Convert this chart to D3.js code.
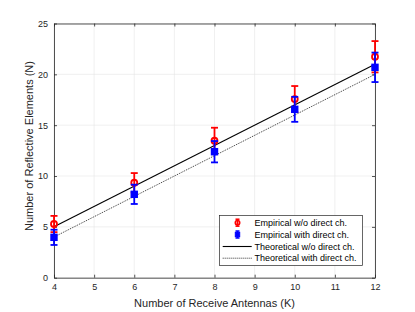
<!DOCTYPE html>
<html><head><meta charset="utf-8">
<script src="https://cdn.jsdelivr.net/npm/d3@7"></script>
<style>body{margin:0;background:#fff;} svg{display:block;font-family:"Liberation Sans",Arial,sans-serif;}</style>
</head><body>
<script>
const antennas = [4, 6, 8, 10, 12];
const empNoDirect = [5.28, 9.34, 13.47, 17.57, 21.73];
const empNoDirectErr = [0.8, 0.95, 1.28, 1.28, 1.54];
const empDirect = [3.97, 8.2, 12.39, 16.56, 20.69];
const empDirectErr = [0.75, 0.95, 1.05, 1.23, 1.45];
const theoK = [4, 12];
const theoNoDirect = [5, 21];
const theoDirect = [4, 20];
const xTicks = [4,5,6,7,8,9,10,11,12];
const yTicks = [0,5,10,15,20,25];
const legendLabels = ["Empirical w/o direct ch.","Empirical with direct ch.","Theoretical w/o direct ch.","Theoretical with direct ch."];

const W=415,H=312;
const m={l:54,r:40,t:23.5,b:34.3};
const svg=d3.select("body").append("svg").attr("width",W).attr("height",H);
const x=d3.scaleLinear().domain([4,12]).range([m.l,W-m.r]);
const y=d3.scaleLinear().domain([0,25]).range([H-m.b,m.t]);

// grid
const g=svg.append("g");
g.selectAll(".gx").data(xTicks).join("line").attr("x1",d=>x(d)).attr("x2",d=>x(d)).attr("y1",y(0)).attr("y2",y(25)).attr("stroke","#e6e6e6").attr("stroke-width",0.6);
g.selectAll(".gy").data(yTicks).join("line").attr("y1",d=>y(d)).attr("y2",d=>y(d)).attr("x1",x(4)).attr("x2",x(12)).attr("stroke","#e6e6e6").attr("stroke-width",0.6);

// axes
const ax=svg.append("g").attr("transform",`translate(0,${y(0)})`).call(d3.axisBottom(x).tickValues(xTicks).tickSizeInner(-3).tickSizeOuter(0).tickPadding(6));
const ay=svg.append("g").attr("transform",`translate(${x(4)},0)`).call(d3.axisLeft(y).tickValues(yTicks).tickSizeInner(-3).tickSizeOuter(0).tickPadding(6));
const axT=svg.append("g").attr("transform",`translate(0,${y(25)})`).call(d3.axisTop(x).tickValues(xTicks).tickSizeInner(-3).tickSizeOuter(0).tickFormat(""));
const ayR=svg.append("g").attr("transform",`translate(${x(12)},0)`).call(d3.axisRight(y).tickValues(yTicks).tickSizeInner(-3).tickSizeOuter(0).tickFormat(""));
[ax,ay,axT,ayR].forEach(a=>{a.selectAll("path,line").attr("stroke","#262626").attr("stroke-width",0.8);a.selectAll("text").attr("fill","#262626").attr("font-size","9px").attr("font-family","Liberation Sans, Arial, sans-serif");});

// theoretical lines
const line=d3.line().x(d=>x(d[0])).y(d=>y(d[1]));
svg.append("path").datum(theoK.map((k,i)=>[k,theoNoDirect[i]])).attr("d",line).attr("fill","none").attr("stroke","#000").attr("stroke-width",1.1);
svg.append("path").datum(theoK.map((k,i)=>[k,theoDirect[i]])).attr("d",line).attr("fill","none").attr("stroke","#000").attr("stroke-width",0.8).attr("stroke-dasharray","1,1");

function errSeries(vals,errs,color,marker){
  const gg=svg.append("g");
  antennas.forEach((k,i)=>{
    const cx=x(k), lo=y(vals[i]-errs[i]), hi=y(vals[i]+errs[i]);
    gg.append("line").attr("x1",cx).attr("x2",cx).attr("y1",lo).attr("y2",hi).attr("stroke",color).attr("stroke-width",1.8);
    [lo,hi].forEach(yy=>gg.append("line").attr("x1",cx-3.5).attr("x2",cx+3.5).attr("y1",yy).attr("y2",yy).attr("stroke",color).attr("stroke-width",1.8));
    if(marker==="circle") gg.append("circle").attr("cx",cx).attr("cy",y(vals[i])).attr("r",3).attr("fill","none").attr("stroke",color).attr("stroke-width",1.8);
    else gg.append("rect").attr("x",cx-3).attr("y",y(vals[i])-3).attr("width",6).attr("height",6).attr("fill",color).attr("stroke",color).attr("stroke-width",1.4);
  });
}
errSeries(empNoDirect,empNoDirectErr,"#ff0000","circle");
errSeries(empDirect,empDirectErr,"#0000ff","square");

// labels
svg.append("text").attr("x",(x(4)+x(12))/2).attr("y",306.5).attr("text-anchor","middle").attr("font-size","11px").attr("fill","#262626").text("Number of Receive Antennas (K)");
svg.append("text").attr("transform",`translate(33,146) rotate(-90)`).attr("text-anchor","middle").attr("font-size","11px").attr("fill","#262626").text("Number of Reflective Elements (N)");

// legend
const lg=svg.append("g");
lg.append("rect").attr("x",219.5).attr("y",215.5).attr("width",143).attr("height",50).attr("fill","#fff").attr("stroke","#262626").attr("stroke-width",0.7);
const ly=[222.7,234.5,246.5,258.2];
legendLabels.forEach((t,i)=>{
  lg.append("text").attr("x",254.5).attr("y",ly[i]+3.2).attr("font-size","9px").attr("fill","#000").text(t);
});
[["#ff0000","circle"],["#0000ff","square"]].forEach(([c,mk],i)=>{
  const cx=237.5, cy=ly[i];
  lg.append("line").attr("x1",cx).attr("x2",cx).attr("y1",cy-3.5).attr("y2",cy+3.5).attr("stroke",c).attr("stroke-width",1.8);
  [cy-3.5,cy+3.5].forEach(yy=>lg.append("line").attr("x1",cx-2).attr("x2",cx+2).attr("y1",yy).attr("y2",yy).attr("stroke",c).attr("stroke-width",1.5));
  if(mk==="circle") lg.append("circle").attr("cx",cx).attr("cy",cy).attr("r",2.2).attr("fill","none").attr("stroke",c).attr("stroke-width",1.6);
  else lg.append("rect").attr("x",cx-2.2).attr("y",cy-2.2).attr("width",4.4).attr("height",4.4).attr("fill",c).attr("stroke",c).attr("stroke-width",1);
});
lg.append("line").attr("x1",222.7).attr("x2",251.7).attr("y1",ly[2]).attr("y2",ly[2]).attr("stroke","#000").attr("stroke-width",1.1);
lg.append("line").attr("x1",222.7).attr("x2",251.7).attr("y1",ly[3]).attr("y2",ly[3]).attr("stroke","#000").attr("stroke-width",0.8).attr("stroke-dasharray","1,1");
</script>
</body></html>
